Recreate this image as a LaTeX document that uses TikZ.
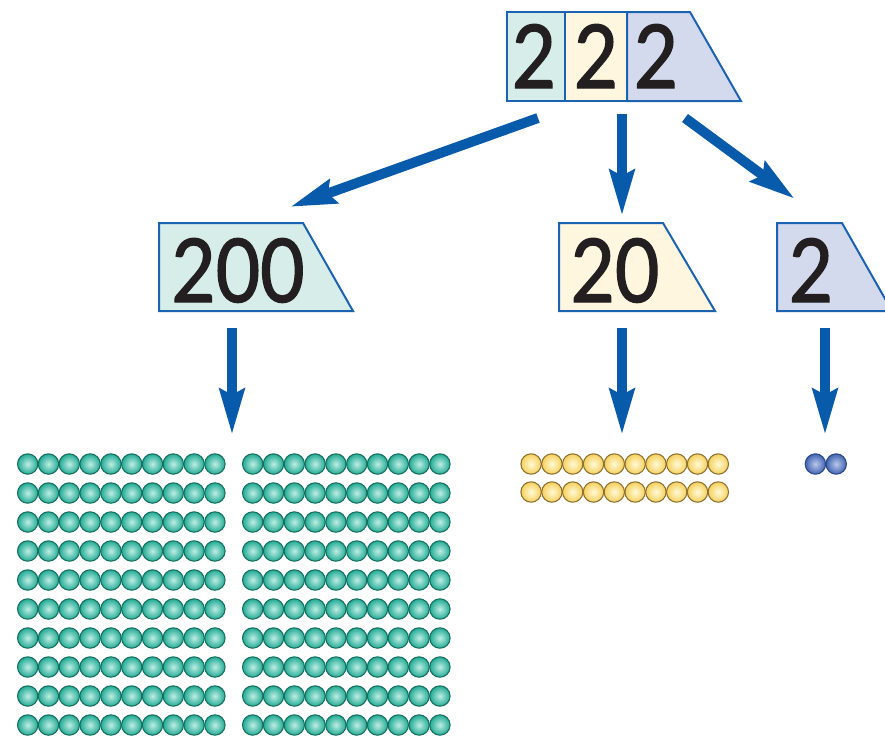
\documentclass[tikz,border=0pt]{standalone}
\usepackage{fontspec}
\setmainfont{Lato}
\newfontfamily\cardfont{Lato}[FakeBold=1.6]
\newcommand{\narrow}[1]{\scalebox{0.87}[1]{#1}}
\usetikzlibrary{arrows.meta}
\definecolor{cardline}{RGB}{27,99,176}
\definecolor{arrowblue}{RGB}{8,91,170}
\definecolor{cardteal}{RGB}{214,237,233}
\definecolor{cardyellow}{RGB}{254,246,222}
\definecolor{cardlilac}{RGB}{212,218,238}
\definecolor{digitblack}{RGB}{35,31,32}
\definecolor{tealin}{RGB}{190,238,228}
\definecolor{tealout}{RGB}{34,170,148}
\definecolor{tealedge}{RGB}{22,110,94}
\definecolor{yellowin}{RGB}{255,250,215}
\definecolor{yellowout}{RGB}{246,208,92}
\definecolor{yellowedge}{RGB}{140,112,48}
\definecolor{bluein}{RGB}{185,200,236}
\definecolor{blueout}{RGB}{66,100,176}
\definecolor{blueedge}{RGB}{40,72,138}

\begin{document}
\begin{tikzpicture}[x=0.75pt,y=0.75pt,yscale=-1,xscale=1,
  arrow/.style={draw=arrowblue,line width=7.5pt,-{Stealth[length=34pt,width=18pt,inset=4pt]}},
  card/.style={draw=cardline,line width=1.5pt,line join=miter},
  digit/.style={inner sep=0pt,anchor=base,text=digitblack,font=\cardfont\fontsize{66}{66}\selectfont},
  tealbead/.style={inner color=tealin,outer color=tealout,draw=tealedge,line width=0.8pt},
  yellowbead/.style={inner color=yellowin,outer color=yellowout,draw=yellowedge,line width=0.8pt},
  bluebead/.style={inner color=bluein,outer color=blueout,draw=blueedge,line width=0.8pt}]
\useasboundingbox (0,0) rectangle (885,736);

%Top card 222
\path [card,fill=cardteal] (507,12) rectangle (565,101) ;
\path [card,fill=cardyellow] (565,12) rectangle (627,101) ;
\path [card,fill=cardlilac] (627,12) -- (690,12) -- (741,101) -- (627,101) -- cycle ;
%Place value cards
\path [card,fill=cardteal] (159,223) -- (303,223) -- (353,311) -- (159,311) -- cycle ;
\path [card,fill=cardyellow] (559,223) -- (663,223) -- (715,311) -- (559,311) -- cycle ;
\path [card,fill=cardlilac] (777,223) -- (842,223) -- (892,311) -- (777,311) -- cycle ;

% Text Node
\node [digit] (h) at (534,88) {\narrow{2}};
\node [digit] (t) at (596,88) {\narrow{2}};
\node [digit] (u) at (656,88) {\narrow{2}};
% Text Node
\node [digit] (d200) at (238,302) {\narrow{200}};
\node [digit] (d20) at (615,302) {\narrow{20}};
\node [digit] (d2) at (811,302) {\narrow{2}};

%Arrow ends
\coordinate (a1) at (538,118);
\coordinate (b1) at (290,207);
\coordinate (a2) at (622,114);
\coordinate (b2) at (622,216);
\coordinate (a3) at (685,118);
\coordinate (b3) at (795,199);
\coordinate (a4) at (232,328);
\coordinate (b4) at (232,435);
\coordinate (a5) at (622,328);
\coordinate (b5) at (622,435);
\coordinate (a6) at (825,328);
\coordinate (b6) at (825,435);
%Straight Lines
\foreach \i in {1,...,6}
  \draw [arrow] (a\i) -- (b\i) ;

%Beads: hundreds
\foreach \b in {0,1}
  \foreach \r in {0,...,9}
    \foreach \c in {0,...,9}
      \shade [tealbead] ({27.7+225*\b+20.8*\c},{464+29*\r}) circle (10.2) ;
%Beads: tens
\foreach \r in {0,1}
  \foreach \c in {0,...,9}
    \shade [yellowbead] ({531.1+20.8*\c},{464+28*\r}) circle (10.2) ;
%Beads: ones
\foreach \c in {0,1}
  \shade [bluebead] ({815.4+20.8*\c},464) circle (10.2) ;

\end{tikzpicture}
\end{document}
